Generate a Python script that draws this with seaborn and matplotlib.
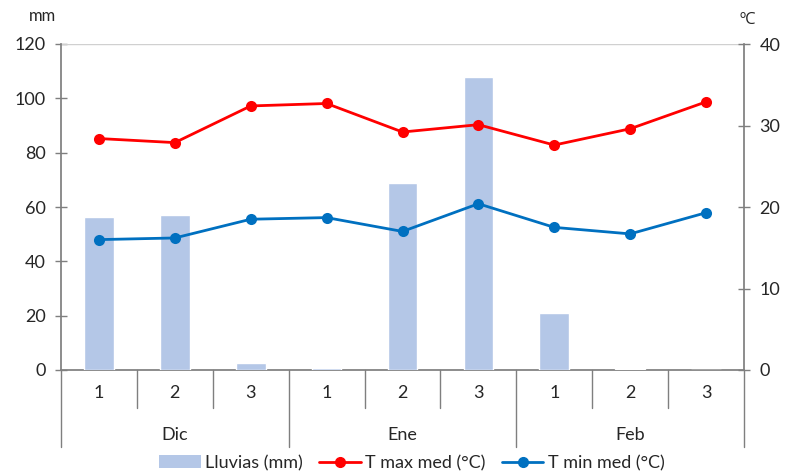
import matplotlib
matplotlib.use("Agg")
import matplotlib.pyplot as plt
import seaborn as sns
import pandas as pd
from matplotlib.patches import Patch
from matplotlib.lines import Line2D

# Ten-day periods (decades) within each month
months = ["Dic", "Ene", "Feb"]
decades = ["1", "2", "3"]
rain_mm = [56.5, 57.0, 2.6, 0.6, 69.0, 108.0, 21.0, 0.5, 0.0]
tmax_c = [28.4, 27.9, 32.4, 32.7, 29.2, 30.1, 27.6, 29.6, 32.9]
tmin_c = [16.0, 16.2, 18.5, 18.7, 17.0, 20.4, 17.5, 16.7, 19.3]

labels = [f"{m}-{d}" for m in months for d in decades]
df = pd.DataFrame({
    "periodo": labels,
    "pos": range(len(labels)),
    "lluvia": rain_mm,
    "tmax": tmax_c,
    "tmin": tmin_c,
})

sns.set_theme(style="white")
plt.rcParams["font.family"] = ["Lato", "DejaVu Sans"]

BAR = "#B4C7E7"
RED = "#FF0000"
BLUE = "#0070C0"
AXC = "#7F7F7F"
TXT = "#262626"
FS = 13

fig = plt.figure(figsize=(7.86, 4.74), dpi=100)
W, H = 786, 474
ax = fig.add_axes([61 / W, 1 - 370 / H, (744 - 61) / W, (370 - 44) / H])

sns.barplot(data=df, x="periodo", y="lluvia", color=BAR, width=0.39,
            saturation=1, ax=ax, zorder=2)
ax.set_ylim(0, 120)
ax.set_xlim(-0.5, len(labels) - 0.5)
ax.set_yticks(range(0, 121, 20))
ax.set_xlabel("")
ax.set_ylabel("")

ax2 = ax.twinx()
sns.lineplot(data=df, x="pos", y="tmax", color=RED, marker="o", markersize=8,
             markeredgewidth=0, linewidth=2, ax=ax2, zorder=3)
sns.lineplot(data=df, x="pos", y="tmin", color=BLUE, marker="o", markersize=8,
             markeredgewidth=0, linewidth=2, ax=ax2, zorder=3)
ax2.set_ylim(0, 40)
ax2.set_yticks(range(0, 41, 10))
ax2.set_xlim(-0.5, len(labels) - 0.5)
ax2.set_xlabel("")
ax2.set_ylabel("")

# Spines and ticks
for a in (ax, ax2):
    for s in a.spines.values():
        s.set_visible(False)
ax.spines["left"].set_visible(True)
ax.spines["left"].set_color(AXC)
ax.spines["bottom"].set_visible(True)
ax.spines["bottom"].set_color(AXC)
ax.spines["bottom"].set_zorder(1)
ax2.spines["right"].set_visible(True)
ax2.spines["right"].set_color(AXC)

ax.tick_params(axis="y", direction="inout", length=8, width=1, color=AXC,
               labelsize=FS, labelcolor=TXT, pad=7, left=True)
ax2.tick_params(axis="y", direction="inout", length=8, width=1, color=AXC,
                labelsize=FS, labelcolor=TXT, pad=7, right=True)
ax.set_xticks(range(len(labels)))
ax.set_xticklabels([d for m in months for d in decades])
ax.tick_params(axis="x", length=0, labelsize=FS, labelcolor=TXT, pad=11)
ax2.tick_params(axis="x", length=0, labelbottom=False)

# Top boundary line at 120 mm
ax.axhline(120, color="#D0D0D0", linewidth=1, zorder=1)

# Multi-level category axis separators
trans = ax.get_xaxis_transform()
short_y = -38 / 326
long_y = -77 / 326
for i in range(len(labels) + 1):
    xb = i - 0.5
    y_end = long_y if i % 3 == 0 else short_y
    ax.plot([xb, xb], [0, y_end], color=AXC, linewidth=1, transform=trans,
            clip_on=False)
for k, m in enumerate(months):
    ax.text(3 * k + 1, -65 / 326, m, transform=trans, ha="center",
            va="center", fontsize=FS, color=TXT)

# Axis unit labels
fig.text(42 / W, 1 - 16 / H, "mm", ha="center", va="center",
         fontsize=FS - 1, color=TXT)
fig.text(748 / W, 1 - 20 / H, "ºC", ha="center", va="center",
         fontsize=FS - 1, color=TXT, family=["Open Sans", "DejaVu Sans"])

# Legend
handles = [
    Patch(facecolor=BAR, edgecolor="none"),
    Line2D([], [], color=RED, marker="o", markersize=7, linewidth=2),
    Line2D([], [], color=BLUE, marker="o", markersize=7, linewidth=2),
]
fig.legend(handles, ["Lluvias (mm)", "T max med (°C)", "T min med (°C)"],
           loc="center", bbox_to_anchor=(412 / W, 1 - 463 / H), ncol=3,
           frameon=False, fontsize=FS, handlelength=2.3, handletextpad=0.25,
           columnspacing=0.9, labelcolor=TXT)

fig.savefig("out.png", dpi=100)
